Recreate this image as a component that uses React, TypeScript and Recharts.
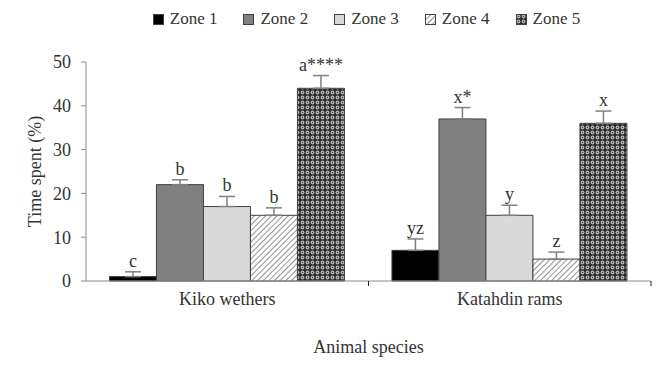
import React from "react";
import { BarChart, Bar, XAxis, YAxis, ErrorBar, LabelList, Legend, Label } from "recharts";

const categories = ["Kiko wethers", "Katahdin rams"];
const zoneNames = ["Zone 1", "Zone 2", "Zone 3", "Zone 4", "Zone 5"];
const zone1 = [1, 7];
const zone2 = [22, 37];
const zone3 = [17, 15];
const zone4 = [15, 5];
const zone5 = [44, 36];
const err1 = [1.1, 2.6];
const err2 = [1.1, 2.6];
const err3 = [2.3, 2.3];
const err4 = [1.7, 1.6];
const err5 = [2.9, 2.8];
const letters1 = ["c", "yz"];
const letters2 = ["b", "x*"];
const letters3 = ["b", "y"];
const letters4 = ["b", "z"];
const letters5 = ["a****", "x"];
const yTicks = [0, 10, 20, 30, 40, 50];

const values = [zone1, zone2, zone3, zone4, zone5];
const errors = [err1, err2, err3, err4, err5];
const letters = [letters1, letters2, letters3, letters4, letters5];

const data = categories.map((name, i) => {
  const row: any = { name };
  values.forEach((v, k) => {
    row["z" + (k + 1)] = v[i];
    row["e" + (k + 1)] = [0, errors[k][i]];
    row["l" + (k + 1)] = letters[k][i];
  });
  return row;
});

const FONT = "'Liberation Serif', 'Times New Roman', serif";
const fills = ["#000000", "#808080", "#d9d9d9", "url(#hatch)", "url(#dots)"];
const TEXT = "#333333";
const AXIS = "#8c8c8c";

const makeLabel = (k: number) => (props: any) => {
  const { x, y, width, height, index, value } = props;
  const v = values[k][index];
  const e = errors[k][index];
  const ppu = v !== 0 ? height / v : 0;
  const top = y - e * ppu;
  return (
    <text x={x + width / 2} y={top - 5} textAnchor="middle" fontFamily={FONT} fontSize={18} fill={TEXT}>
      {value}
    </text>
  );
};

const CategoryTick = (props: any) => {
  const { x, y, payload } = props;
  const half = payload && typeof payload.offset === "number" ? payload.offset : 0;
  const edge = x + half;
  return (
    <g>
      {half > 0 && <line x1={edge} x2={edge} y1={y} y2={y + 5} stroke="#222" strokeWidth={1} />}
      <text x={x} y={y + 11} dy="0.71em" textAnchor="middle" fontFamily={FONT} fontSize={18} fill={TEXT}>
        {payload.value}
      </text>
    </g>
  );
};

const LegendContent = () => (
  <div style={{ display: "flex", justifyContent: "center", paddingLeft: 64, height: 30, alignItems: "center", fontFamily: FONT, fontSize: 17, color: TEXT }}>
    {zoneNames.map((n, k) => (
      <div key={n} style={{ display: "flex", alignItems: "center", marginRight: k < 4 ? 26 : 0 }}>
        <svg width={11} height={11} style={{ marginRight: 6 }}>
          <rect x={0.5} y={0.5} width={10} height={10} fill={fills[k]} stroke="#404040" strokeWidth={1} />
        </svg>
        <span>{n}</span>
      </div>
    ))}
  </div>
);

export default function App() {
  return (
    <div style={{ position: "absolute", left: 0, top: 0, width: 669, height: 365, background: "#fff" }}>
      <BarChart
        width={669}
        height={365}
        data={data}
        margin={{ top: 32, right: 18, bottom: 0, left: 0 }}
        barCategoryGap="8.3%"
        barGap={0}
      >
        <defs>
          <pattern id="hatch" width={4} height={4} patternUnits="userSpaceOnUse" patternTransform="rotate(45)">
            <rect width={4} height={4} fill="#ffffff" />
            <line x1={0} y1={0} x2={0} y2={4} stroke="#555555" strokeWidth={1.3} />
          </pattern>
          <pattern id="dots" width={5} height={5} patternUnits="userSpaceOnUse">
            <rect width={5} height={5} fill="#2a2a2a" />
            <circle cx={2.5} cy={2.5} r={1.9} fill="#b8b8b8" />
            <circle cx={2.5} cy={2.5} r={0.7} fill="#3a3a3a" />
          </pattern>
        </defs>
        <Legend
          verticalAlign="top"
          wrapperStyle={{ top: 4, left: 0, width: 669 }}
          content={<LegendContent />}
        />
        <XAxis
          dataKey="name"
          height={84}
          axisLine={{ stroke: AXIS, strokeWidth: 1 }}
          tickLine={false}
          tickSize={0}
          tickMargin={0}
          tick={<CategoryTick />}
        >
          <Label
            content={(p: any) => {
              const vb = p.viewBox;
              return (
                <text x={vb.x + vb.width / 2} y={vb.y + 72} textAnchor="middle" fontFamily={FONT} fontSize={18} fill={TEXT}>
                  Animal species
                </text>
              );
            }}
          />
        </XAxis>
        <YAxis
          width={86}
          domain={[0, 50]}
          ticks={yTicks}
          interval={0}
          axisLine={{ stroke: AXIS, strokeWidth: 1 }}
          tickLine={{ stroke: AXIS, strokeWidth: 1 }}
          tickSize={5}
          tickMargin={10}
          tick={{ fontFamily: FONT, fontSize: 18, fill: TEXT }}
        >
          <Label
            content={(p: any) => {
              const vb = p.viewBox;
              const cx = vb.x + 35;
              const cy = vb.y + vb.height / 2;
              return (
                <text x={cx} y={cy} transform={`rotate(-90 ${cx} ${cy})`} textAnchor="middle" dominantBaseline="central" fontFamily={FONT} fontSize={18} fill={TEXT}>
                  Time spent (%)
                </text>
              );
            }}
          />
        </YAxis>
        {[0, 1, 2, 3, 4].map((k) => (
          <Bar
            key={k}
            dataKey={"z" + (k + 1)}
            name={zoneNames[k]}
            fill={fills[k]}
            stroke="#404040"
            strokeWidth={1}
            isAnimationActive={false}
          >
            <ErrorBar dataKey={"e" + (k + 1)} width={8} stroke="#808080" strokeWidth={1.5} />
            <LabelList dataKey={"l" + (k + 1)} content={makeLabel(k)} />
          </Bar>
        ))}
      </BarChart>
    </div>
  );
}
